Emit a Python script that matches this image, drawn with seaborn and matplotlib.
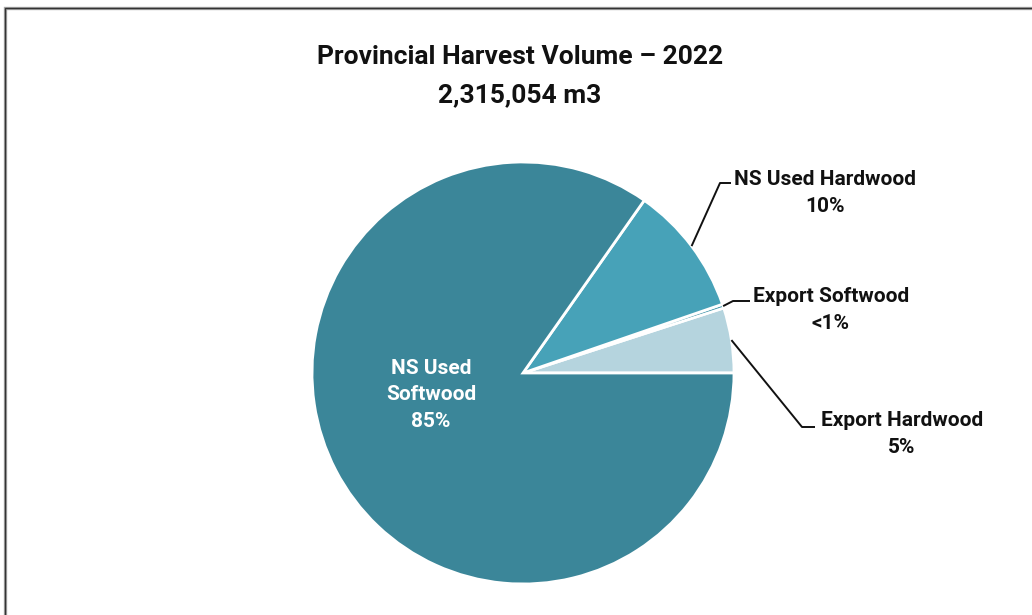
import numpy as np
import matplotlib
matplotlib.use("Agg")
import matplotlib.pyplot as plt
from matplotlib.patches import Rectangle
import seaborn as sns

# Harvest shares, counter-clockwise from 3 o'clock
categories = ["Export Hardwood", "Export Softwood", "NS Used Hardwood", "NS Used Softwood"]
shares = [5, 0.3, 10, 85]
pct_labels = ["5%", "<1%", "10%", "85%"]
colors = ["#B5D4DE", "#3E93A8", "#47A2B8", "#3B8699"]

title_line1 = "Provincial Harvest Volume \u2013 2022"
title_line2 = "2,315,054 m3"

sns.set_theme(style="white")
plt.rcParams["font.family"] = ["Roboto", "DejaVu Sans"]

W, H = 1032, 615
fig = plt.figure(figsize=(W / 100, H / 100), dpi=100)
fig.patch.set_facecolor("white")
ax = fig.add_axes([0, 0, 1, 1])

cx, cy, r = 523, H - 373, 211
wedges, _ = ax.pie(shares, colors=colors, startangle=0, counterclock=True,
                   center=(cx, cy), radius=r, frame=True,
                   wedgeprops=dict(edgecolor="white", linewidth=2))
ax.set_xlim(0, W)
ax.set_ylim(0, H)
ax.set_aspect("equal")
ax.axis("off")

# Frame around the chart area
frame_xy = (5 / W, -0.05)
frame_h = (H - 8) / H + 0.05
fig.patches.append(Rectangle(frame_xy, 1.1, frame_h, transform=fig.transFigure,
                             fill=False, edgecolor="#a8a8a8", linewidth=2.4, zorder=0))
fig.patches.append(Rectangle(frame_xy, 1.1, frame_h, transform=fig.transFigure,
                             fill=False, edgecolor="#333333", linewidth=1.0, zorder=0))

# Title
ax.text(520, H - 57, title_line1, ha="center", va="center",
        fontsize=19, fontweight="bold", color="#111111")
ax.text(520, H - 95, title_line2, ha="center", va="center",
        fontsize=19, fontweight="bold", color="#111111")

# Inside label for the large slice
ax.text(431, H - 395, "NS Used\nSoftwood\n" + pct_labels[3], ha="center", va="center",
        fontsize=15, fontweight="bold", color="white", linespacing=1.5)

# Outside labels with leader lines: (elbow, end of horizontal, text centre)
callouts = {
    "NS Used Hardwood": ((720, 183), (731, 183), (825, 193)),
    "Export Softwood": ((733, 301), (750, 301), (831, 310)),
    "Export Hardwood": ((802, 427), (815, 427), (902, 434)),
}
for w, name, pct in zip(wedges, categories, pct_labels):
    if name not in callouts:
        continue
    mid = np.deg2rad((w.theta1 + w.theta2) / 2)
    x0, y0 = cx + r * np.cos(mid), cy + r * np.sin(mid)
    (ex, ey), (hx, hy), (tx, ty) = callouts[name]
    ax.plot([x0, ex, hx], [y0, H - ey, H - hy], color="#111111", lw=1.4,
            solid_capstyle="butt", zorder=5)
    ax.text(tx, H - ty, name + "\n" + pct, ha="center", va="center",
            fontsize=15, fontweight="bold", color="#111111", linespacing=1.5)

fig.savefig("out.png", dpi=100, facecolor="white")
